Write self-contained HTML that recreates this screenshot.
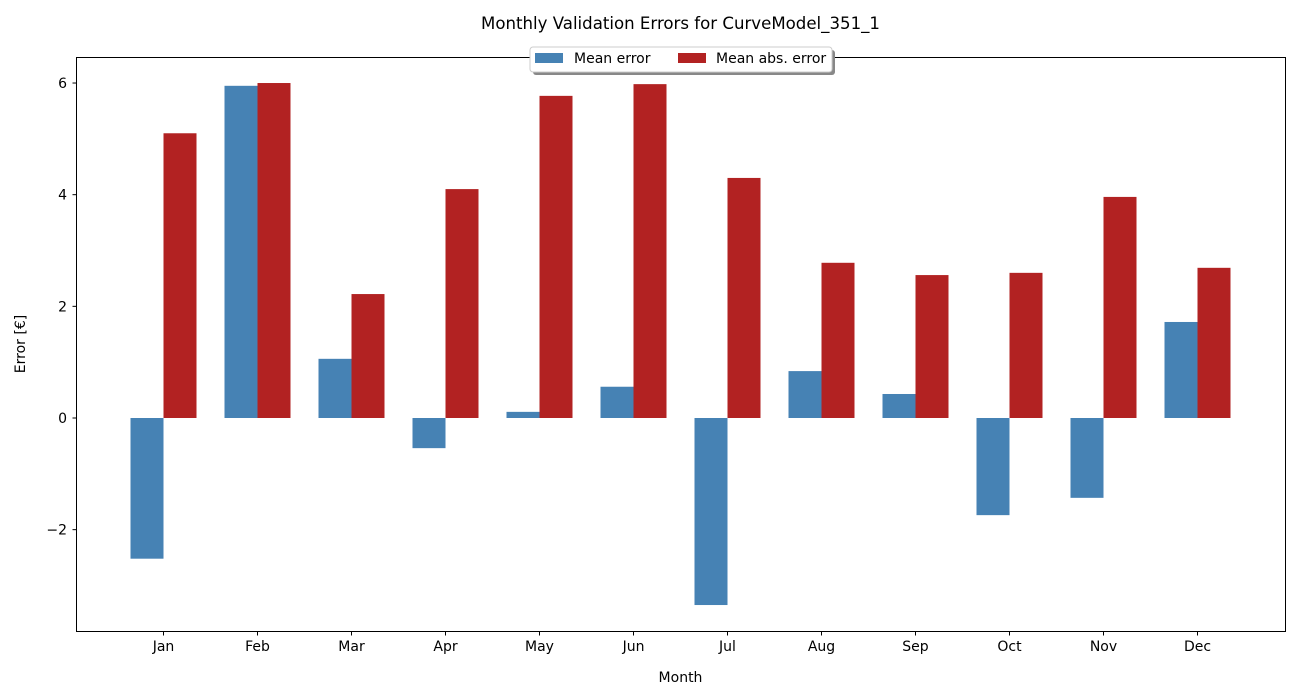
<!DOCTYPE html>
<html><head><meta charset="utf-8"><style>
html,body{margin:0;padding:0;background:#fff;}
svg{display:block;font-family:"DejaVu Sans","Liberation Sans",sans-serif;}
</style></head><body>
<svg id="chart" width="1300" height="700" viewBox="0 0 1300 700">
<text x="680.5" y="29" text-anchor="middle" font-size="16.6">Monthly Validation Errors for CurveModel_351_1</text>
<g id="bars"></g>
<rect x="76.5" y="57.5" width="1209" height="574" fill="none" stroke="#000" stroke-width="1"/>
<g id="axes"></g>
<text x="680.5" y="682" text-anchor="middle" font-size="14">Month</text>
<text transform="translate(25,344) rotate(-90)" text-anchor="middle" font-size="14">Error [€]</text>
<g>
<rect x="533" y="50" width="302" height="25" rx="3" fill="#888"/>
<rect x="530" y="47" width="302" height="25" rx="3" fill="#fff" stroke="#ccc"/>
<g>
<rect x="535" y="53" width="28" height="10" fill="#4682b4"/>
<text x="574" y="63" font-size="14">Mean error</text></g>
<g>
<rect x="678" y="53" width="28" height="10" fill="#b22222"/>
<text x="716" y="63" font-size="14">Mean abs. error</text></g>
</g>
</svg>
<script>
const months=["Jan","Feb","Mar","Apr","May","Jun","Jul","Aug","Sep","Oct","Nov","Dec"];
const meanError=[-2.52,5.95,1.06,-0.54,0.11,0.56,-3.35,0.84,0.43,-1.74,-1.43,1.72];
const meanAbsError=[5.10,6.00,2.22,4.10,5.77,5.98,4.30,2.78,2.56,2.60,3.96,2.69];
const yTicks=[-2,0,2,4,6];
const yTickLabels=["\u22122","0","2","4","6"];

const NS="http://www.w3.org/2000/svg";
const yScale=v=>418-v*55.83;
const xScale=i=>163.5+i*94;
const bw=33;
const bars=document.getElementById('bars');
const axes=document.getElementById('axes');
function mk(tag,attrs){const e=document.createElementNS(NS,tag);for(const k in attrs)e.setAttribute(k,attrs[k]);return e;}
months.forEach((m,i)=>{
  const c=xScale(i);
  [[meanError[i],c-bw,"#4682b4","mean-error"],[meanAbsError[i],c,"#b22222","mean-abs-error"]].forEach(([v,x,col,n])=>{
    const y0=yScale(0),y1=yScale(v);
    const r=mk('rect',{x:x,y:Math.min(y0,y1),width:bw,height:Math.abs(y1-y0),fill:col});
    
    
    bars.appendChild(r);
  });
  const t=mk('line',{x1:c,x2:c,y1:631.5,y2:635.5,stroke:'#000'});
  
  
  axes.appendChild(t);
  const l=mk('text',{x:c,y:651,'text-anchor':'middle','font-size':14});
  l.textContent=m;
  
  
  axes.appendChild(l);
});
yTicks.forEach((v,i)=>{
  const y=yScale(v);
  const t=mk('line',{x1:72.5,x2:76.5,y1:y,y2:y,stroke:'#000'});
  
  
  axes.appendChild(t);
  const l=mk('text',{x:67,y:y+5,'text-anchor':'end','font-size':14});
  l.textContent=yTickLabels[i];
  
  
  axes.appendChild(l);
});
</script>
</body></html>
